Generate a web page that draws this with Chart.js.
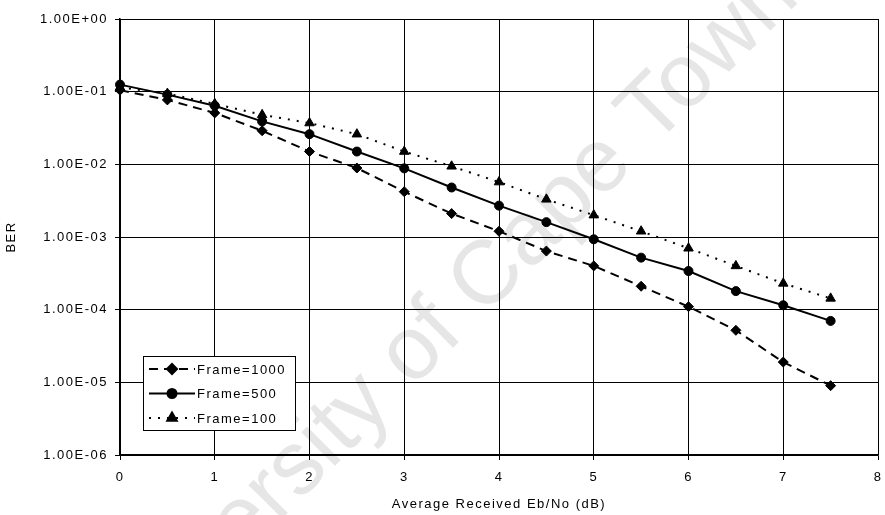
<!DOCTYPE html>
<html>
<head>
<meta charset="utf-8">
<script src="https://cdn.jsdelivr.net/npm/chart.js@4/dist/chart.umd.min.js"></script>
<style>
  html, body { margin: 0; padding: 0; background: #fff; }
  #wrap { width: 885px; height: 515px; }
</style>
</head>
<body>
<div id="wrap"><canvas id="ber" width="885" height="515"></canvas></div>
<script>
// Eb/No points (dB)
const ebno = [0, 0.5, 1, 1.5, 2, 2.5, 3, 3.5, 4, 4.5, 5, 5.5, 6, 6.5, 7, 7.5];
// BER
const frame1000 = [0.105, 0.077, 0.051, 0.029, 0.015, 0.0089, 0.0042, 0.0021, 0.0012, 0.00064, 0.0004, 0.00021, 0.00011, 0.000052, 0.000019, 0.000009];
const frame500 = [0.125, 0.091, 0.064, 0.039, 0.026, 0.015, 0.0088, 0.0048, 0.0027, 0.0016, 0.00093, 0.00052, 0.00034, 0.00018, 0.000115, 0.00007];
const frame100 = [0.115, 0.094, 0.068, 0.048, 0.037, 0.026, 0.015, 0.0094, 0.0057, 0.0033, 0.002, 0.0012, 0.0007, 0.0004, 0.00023, 0.000143];
const seriesNames = ['Frame=1000', 'Frame=500', 'Frame=100'];
const yTicks = [1, 1e-1, 1e-2, 1e-3, 1e-4, 1e-5, 1e-6];
const xTicks = [0, 1, 2, 3, 4, 5, 6, 7, 8];

const FONT = 'Liberation Sans, Arial, sans-serif';
const SPACING = '1.5px';

// exponent label like 1.00E-03
function sci(v) {
  const e = Math.round(Math.log10(v));
  const m = (v / Math.pow(10, e)).toFixed(2);
  return m + 'E' + (e < 0 ? '-' : '+') + String(Math.abs(e)).padStart(2, '0');
}

const pts = arr => ebno.map((x, i) => ({ x, y: arr[i] }));

// canvas letter spacing gets reset on resize, so put it back before layout/draw
const spacing = {
  id: 'spacing',
  beforeLayout(chart) { chart.ctx.letterSpacing = SPACING; },
  beforeDraw(chart) { chart.ctx.letterSpacing = SPACING; }
};

// faint scan watermark behind everything, anchored on the "C" of Cape
const watermark = {
  id: 'watermark',
  beforeDraw(chart) {
    const ctx = chart.ctx;
    const size = 90;
    ctx.save();
    ctx.letterSpacing = '0px';
    ctx.font = size + 'px ' + FONT;
    ctx.fillStyle = '#e6e6e6';
    const pre = ctx.measureText('University of ').width;
    const halfC = ctx.measureText('C').width / 2;
    ctx.translate(483, 272);
    ctx.rotate(-45 * Math.PI / 180);
    ctx.textBaseline = 'alphabetic';
    ctx.fillText('University of Cape Town', -(pre + halfC), size * 0.36);
    ctx.restore();
  }
};

// boxed legend sitting inside the plot, bottom left
const boxLegend = {
  id: 'boxLegend',
  afterDraw(chart) {
    const ctx = chart.ctx;
    const area = chart.chartArea;
    const left = area.left + 23, top = area.bottom - 99;
    const w = 152, h = 74;
    ctx.save();
    ctx.letterSpacing = SPACING;
    ctx.fillStyle = '#fff';
    ctx.fillRect(left, top, w, h);
    ctx.strokeStyle = '#000';
    ctx.lineWidth = 1;
    ctx.strokeRect(left + 0.5, top + 0.5, w, h);
    ctx.font = '13px ' + FONT;
    ctx.textBaseline = 'middle';
    chart.data.datasets.forEach((ds, i) => {
      const y = top + 13 + i * 24.5;
      ctx.strokeStyle = '#000';
      ctx.lineWidth = ds.borderWidth;
      ctx.setLineDash(ds.borderDash || []);
      ctx.beginPath();
      ctx.moveTo(left + 6, y);
      ctx.lineTo(left + 52, y);
      ctx.stroke();
      ctx.setLineDash([]);
      Chart.helpers.drawPoint(ctx, {
        pointStyle: ds.pointStyle,
        radius: ds.pointRadius,
        borderWidth: 1
      }, left + 29, y);
      ctx.fillStyle = '#000';
      ctx.fill();
      ctx.fillText(ds.label, left + 54, y + 1);
    });
    ctx.restore();
  }
};

new Chart(document.getElementById('ber'), {
  type: 'line',
  data: {
    datasets: [
      {
        label: seriesNames[0], data: pts(frame1000),
        borderColor: '#000', backgroundColor: '#000', borderWidth: 2, borderDash: [9, 6],
        pointStyle: 'rectRot', pointRadius: 5, pointBorderWidth: 1, clip: false
      },
      {
        label: seriesNames[1], data: pts(frame500),
        borderColor: '#000', backgroundColor: '#000', borderWidth: 2,
        pointStyle: 'circle', pointRadius: 4.5, pointBorderWidth: 1, clip: false
      },
      {
        label: seriesNames[2], data: pts(frame100),
        borderColor: '#000', backgroundColor: '#000', borderWidth: 2, borderDash: [2, 7],
        pointStyle: 'triangle', pointRadius: 5.5, pointBorderWidth: 1, clip: false
      }
    ]
  },
  options: {
    responsive: false,
    animation: false,
    layout: { padding: { left: 0, right: 7, top: 19, bottom: 0 } },
    plugins: {
      legend: { display: false },
      tooltip: { enabled: false }
    },
    scales: {
      x: {
        type: 'linear',
        min: 0, max: 8,
        afterBuildTicks: s => { s.ticks = xTicks.map(v => ({ value: v })); },
        afterFit: s => { s.height = 60; s.paddingLeft = 0; s.paddingRight = 0; },
        grid: { color: '#000', lineWidth: 1, tickLength: 5, tickColor: '#000' },
        border: { color: '#000', width: 1.5 },
        ticks: { color: '#000', padding: 10, maxRotation: 0, font: { family: FONT, size: 13 } },
        title: {
          display: true, text: 'Average Received Eb/No (dB)', color: '#000',
          font: { family: FONT, size: 13 }, padding: { top: 0, bottom: 3 }
        }
      },
      y: {
        type: 'logarithmic',
        min: 1e-6, max: 1,
        afterBuildTicks: s => { s.ticks = yTicks.map(v => ({ value: v })); },
        afterFit: s => { s.width = 120; s.paddingTop = 0; s.paddingBottom = 0; },
        grid: { color: '#000', lineWidth: 1, tickLength: 5, tickColor: '#000' },
        border: { color: '#000', width: 1.5 },
        ticks: { color: '#000', padding: 7, callback: v => sci(v), font: { family: FONT, size: 13 } },
        title: {
          display: true, text: 'BER', color: '#000',
          font: { family: FONT, size: 13 }, padding: { top: 4, bottom: 0 }
        }
      }
    }
  },
  plugins: [spacing, watermark, boxLegend]
});
</script>
</body>
</html>
